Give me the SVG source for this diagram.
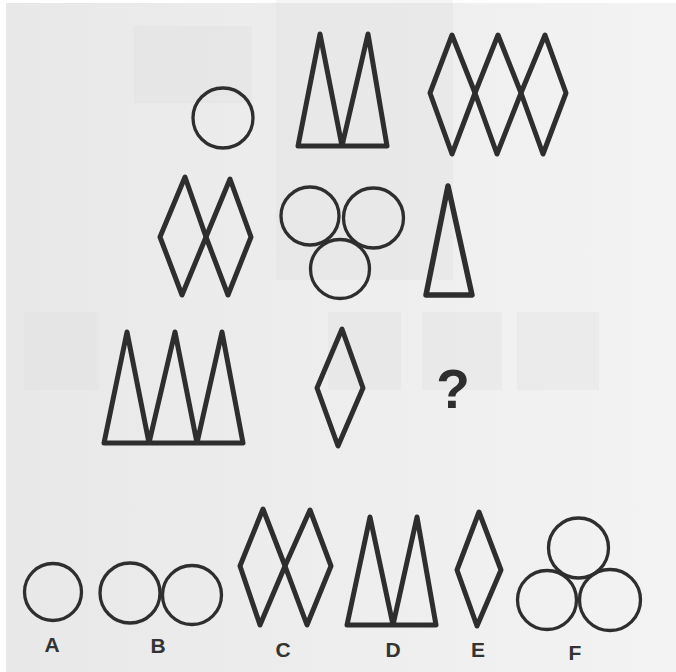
<svg xmlns="http://www.w3.org/2000/svg" width="676" height="672" viewBox="0 0 676 672">
  <defs>
    <linearGradient id="paper" x1="0" y1="0" x2="1" y2="0">
      <stop offset="0" stop-color="#e8e8e8"/>
      <stop offset="1" stop-color="#f3f3f3"/>
    </linearGradient>
    <style>
      .thin { fill: none; stroke: #2e2e2e; stroke-width: 3.3; }
      .thick { fill: none; stroke: #2e2e2e; stroke-width: 5; stroke-linejoin: round; }
      .ghost { fill: #dcdcdc; opacity: 0.28; }
      .lbl { font-family: "Liberation Sans", Arial, sans-serif; font-weight: bold; font-size: 21px; fill: #333; text-anchor: middle; }
      .q { font-family: "Liberation Sans", Arial, sans-serif; font-weight: bold; font-size: 55px; fill: #2e2e2e; text-anchor: middle; }
    </style>
  </defs>

  <rect x="0" y="0" width="676" height="672" fill="#ffffff"/>
  <rect x="6" y="3" width="670" height="669" fill="url(#paper)"/>

  <g id="background-ghosts">
    <rect class="ghost" x="134" y="26" width="118" height="77"/>
    <rect class="ghost" x="276" y="0" width="177" height="280"/>
    <rect class="ghost" x="24" y="312" width="75" height="78"/>
    <rect class="ghost" x="328" y="312" width="73" height="78"/>
    <rect class="ghost" x="422" y="312" width="80" height="78"/>
    <rect class="ghost" x="517" y="312" width="82" height="78"/>
  </g>

  <!-- Row 1 -->
  <g id="r1-circle">
    <circle class="thin" cx="223" cy="118" r="30"/>
  </g>
  <g id="r1-two-triangles">
    <path class="thick" d="M298,146 L320,34 L342,146 L368,34 L387,146 Z"/>
  </g>
  <g id="r1-three-diamonds">
    <path class="thick" d="M452,35 L475,93 L452,154 L430,93 Z"/>
    <path class="thick" d="M498,35 L521,93 L497,154 L475,93 Z"/>
    <path class="thick" d="M545,35 L566,93 L543,154 L521,93 Z"/>
  </g>

  <!-- Row 2 -->
  <g id="r2-two-diamonds">
    <path class="thick" d="M185,177 L206,237 L182,295 L160,237 Z"/>
    <path class="thick" d="M230,179 L251,237 L228,295 L206,237 Z"/>
  </g>
  <g id="r2-three-circles">
    <circle class="thin" cx="310" cy="216" r="29"/>
    <circle class="thin" cx="373.5" cy="218" r="30"/>
    <circle class="thin" cx="340" cy="269" r="29.5"/>
  </g>
  <g id="r2-triangle">
    <path class="thick" style="stroke-width:5.5" d="M448,186 L472,295 L426,295 Z"/>
  </g>

  <!-- Row 3 -->
  <g id="r3-three-triangles">
    <path class="thick" d="M104,443 L127,332 L149,443 L175,332 L197,443 L222,332 L243,443 Z"/>
  </g>
  <g id="r3-diamond">
    <path class="thick" d="M342,329 L363,388 L338,446 L317,388 Z"/>
  </g>
  <g id="r3-question">
    <text class="q" x="453" y="408">?</text>
  </g>

  <!-- Options -->
  <g id="opt-A">
    <circle class="thin" cx="53" cy="592" r="28.5"/>
    <text class="lbl" x="52" y="652">A</text>
  </g>
  <g id="opt-B">
    <circle class="thin" cx="130" cy="593" r="30"/>
    <circle class="thin" cx="192" cy="595" r="29.5"/>
    <text class="lbl" x="158" y="653">B</text>
  </g>
  <g id="opt-C">
    <path class="thick" d="M263,509 L285,566 L260,625 L240,566 Z"/>
    <path class="thick" d="M310,510 L331,566 L307,625 L285,566 Z"/>
    <text class="lbl" x="283" y="657">C</text>
  </g>
  <g id="opt-D">
    <path class="thick" d="M347,625 L370,517 L393,625 L417,517 L436,625 Z"/>
    <text class="lbl" x="393" y="657">D</text>
  </g>
  <g id="opt-E">
    <path class="thick" d="M479,512 L501,570 L477,626 L457,570 Z"/>
    <text class="lbl" x="478" y="657">E</text>
  </g>
  <g id="opt-F">
    <circle class="thin" cx="578.5" cy="548" r="30"/>
    <circle class="thin" cx="547" cy="600" r="29.5"/>
    <circle class="thin" cx="610" cy="600" r="30.5"/>
    <text class="lbl" x="575" y="660">F</text>
  </g>
</svg>
